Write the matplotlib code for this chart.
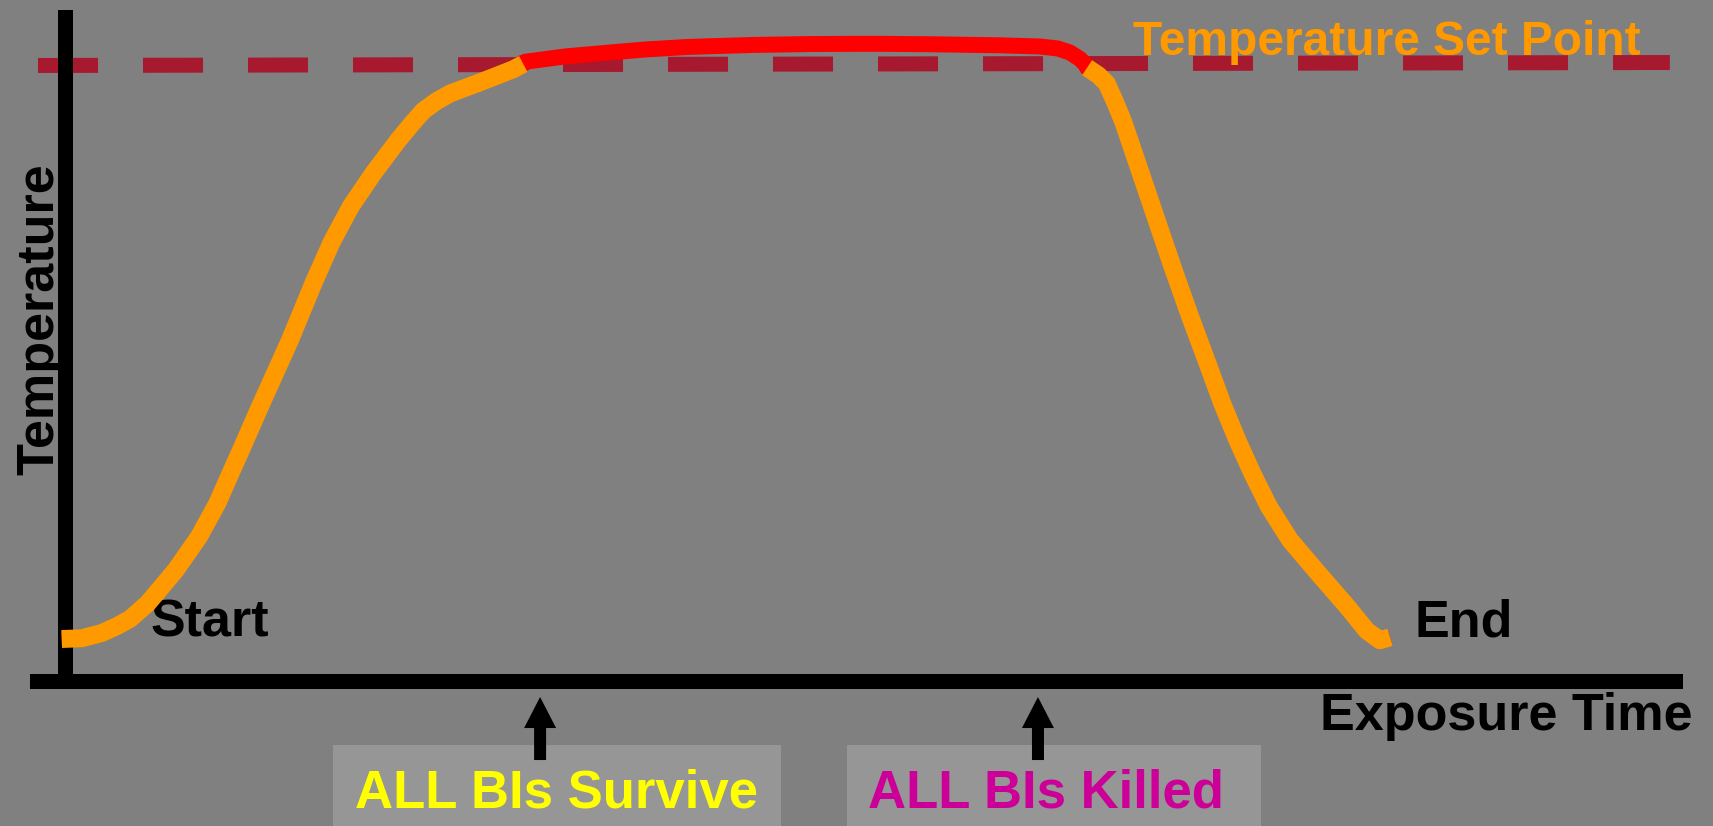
import matplotlib
matplotlib.use("Agg")
import matplotlib.pyplot as plt
from matplotlib.patches import Rectangle

# heat-kill profile: temperature vs exposure time (arbitrary units, set point = 100)
rise_t = [-0.235, 1.00, 2.24, 3.19, 3.99, 5.09, 6.82, 8.26, 9.39, 10.30, 10.80,
          12.03, 13.89, 15.37, 16.47, 17.64, 19.04, 20.59, 21.45, 22.12, 22.92,
          23.79, 25.64, 27.70, 28.32]
rise_T = [6.73, 6.85, 7.70, 8.84, 9.98, 12.52, 17.92, 23.33, 28.74, 34.14, 37.06,
          44.41, 55.23, 64.64, 71.13, 76.85, 82.27, 87.67, 90.38, 92.38, 93.92,
          95.21, 97.03, 99.14, 100.0]

hold_t = [28.20, 28.46, 30.90, 33.31, 35.85, 38.45, 42.35, 46.18, 50.08, 53.85,
          57.81, 60.28, 61.40, 62.14, 62.76, 63.25]
hold_T = [100.1, 100.37, 101.22, 101.78, 102.35, 102.76, 103.08, 103.24, 103.28,
          103.19, 103.03, 102.84, 102.51, 101.86, 100.81, 99.51]

fall_t = [63.20, 63.89, 64.41, 64.92, 65.44, 66.47, 67.52, 68.51, 69.56, 70.62,
          71.55, 72.49, 73.42, 74.45, 75.75, 77.50, 79.30, 80.50, 81.32, 81.94]
fall_T = [99.4, 98.2, 96.87, 93.90, 90.59, 82.64, 74.53, 66.91, 59.12, 51.66,
          45.01, 39.01, 33.61, 28.19, 22.79, 17.39, 11.97, 8.08, 6.52, 7.01]

setpoint_t = [-1.70, 99.25]
setpoint_T = [99.76, 100.24]

marker_t = [29.36, 60.16]
marker_labels = ["ALL BIs Survive", "ALL BIs Killed"]
marker_colors = ["#FFFF00", "#CC0099"]
label_t = [30.40, 60.63]
box_spans = [(16.55, 44.26), (48.35, 73.96)]

BG = "#808080"
plt.rcParams["font.family"] = ["Liberation Sans", "DejaVu Sans"]
plt.rcParams["font.weight"] = "bold"

fig = plt.figure(figsize=(17.13, 8.26), dpi=100, facecolor=BG)
ax = fig.add_axes([0, 0, 1, 1])
ax.set_facecolor(BG)
ax.set_xlim(-4.052, 101.92)
ax.set_ylim(-23.6, 110.38)
ax.set_xticks([])
ax.set_yticks([])
for s in ["top", "right"]:
    ax.spines[s].set_visible(False)
ax.spines["left"].set_position(("data", 0))
ax.spines["left"].set_bounds(0.0, 107.7)
ax.spines["bottom"].set_position(("data", 0))
ax.spines["bottom"].set_bounds(-1.79, 99.54)
for s in ["left", "bottom"]:
    ax.spines[s].set_linewidth(10.8)
    ax.spines[s].set_color("black")

# set point
ax.plot(setpoint_t, setpoint_T, color="#A6192E", lw=10.8, dashes=(4, 3),
        solid_capstyle="butt", zorder=2)

# full curve in red, ramps over-painted in orange
ax.plot(rise_t + hold_t + fall_t, rise_T + hold_T + fall_T, color="#FF0000", lw=11.5,
        solid_capstyle="butt", solid_joinstyle="round", zorder=3)
for xs, ys in [(rise_t, rise_T), (fall_t, fall_T)]:
    ax.plot(xs, ys, color="#FF9900", lw=12.9,
            solid_capstyle="butt", solid_joinstyle="round", zorder=4)

txt = dict(fontsize=37.5, fontweight="bold", color="black")
ax.text(-0.77, 58.56, "Temperature", rotation=90, rotation_mode="anchor",
        ha="center", va="baseline", **txt)
ax.text(100.67, -8.03, "Exposure Time", ha="right", va="baseline", **txt)
ax.text(5.29, 7.06, "Start", ha="left", va="baseline", **txt)
ax.text(83.48, 7.06, "End", ha="left", va="baseline", **txt)
ax.text(66.04, 101.46, "Temperature Set Point", ha="left", va="baseline",
        fontsize=34.5, fontweight="bold", color="#FF9900", zorder=5)

for t, lt, lab, col, (b0, b1) in zip(marker_t, label_t, marker_labels,
                                      marker_colors, box_spans):
    ax.add_patch(Rectangle((b0, -30), b1 - b0, 30 - 10.46, facecolor="#969696",
                           edgecolor="none", clip_on=False, zorder=1))
    ax.arrow(t, -12.9, 0, 10.22, width=0.742, head_width=1.98, head_length=5.03,
             length_includes_head=True, color="black", lw=0, zorder=3)
    ax.text(lt, -20.55, lab, ha="center", va="baseline",
            fontsize=38, fontweight="bold", color=col, zorder=4)

fig.savefig("out.png", dpi=100, facecolor=BG)
